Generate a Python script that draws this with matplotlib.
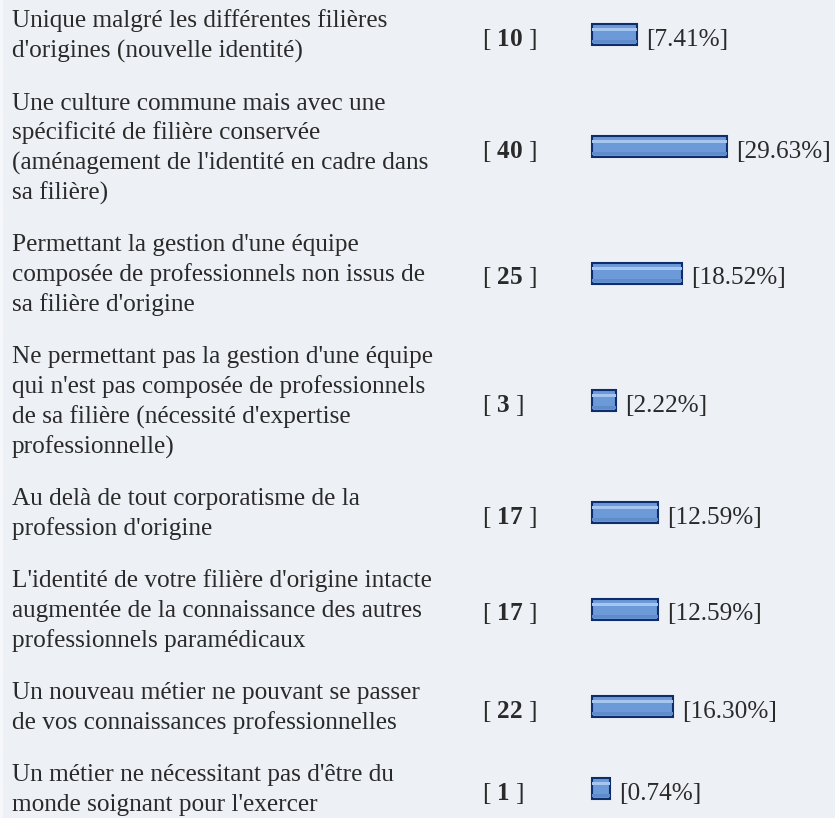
import matplotlib
matplotlib.use("Agg")
import matplotlib.pyplot as plt

# ---- data ----
labels = [
    ["Unique malgré les différentes filières", "d'origines (nouvelle identité)"],
    ["Une culture commune mais avec une", "spécificité de filière conservée",
     "(aménagement de l'identité en cadre dans", "sa filière)"],
    ["Permettant la gestion d'une équipe", "composée de professionnels non issus de",
     "sa filière d'origine"],
    ["Ne permettant pas la gestion d'une équipe", "qui n'est pas composée de professionnels",
     "de sa filière (nécessité d'expertise", "professionnelle)"],
    ["Au delà de tout corporatisme de la", "profession d'origine"],
    ["L'identité de votre filière d'origine intacte", "augmentée de la connaissance des autres",
     "professionnels paramédicaux"],
    ["Un nouveau métier ne pouvant se passer", "de vos connaissances professionnelles"],
    ["Un métier ne nécessitant pas d'être du", "monde soignant pour l'exercer"],
]
counts = [10, 40, 25, 3, 17, 17, 22, 1]
percents = [7.41, 29.63, 18.52, 2.22, 12.59, 12.59, 16.30, 0.74]

# ---- style / layout ----
W, H = 835, 818
BG = "#edf0f5"
TXT = "#2a2a2a"
FS = 18.2
LINE = 30.0      # px between lines
GAP = 22.0       # px between blocks
FIRST_C = 34.5   # centre of first block
PX_PER_PCT = 4.05
ZERO_PX = 607.0
BAR_MIN = 3.6    # bar minimum stub (in pct units)

plt.rcParams["font.family"] = ["Liberation Serif", "DejaVu Serif"]
plt.rcParams["mathtext.fontset"] = "custom"
plt.rcParams["mathtext.rm"] = "Liberation Serif"
plt.rcParams["mathtext.bf"] = "Liberation Serif:bold"

fig = plt.figure(figsize=(W / 100, H / 100), dpi=100, facecolor=BG)

# text layer in pixel layout units
ax = fig.add_axes([0, 0, 1, 1])
ax.set_xlim(0, W)
ax.set_ylim(H, 0)
ax.axis("off")

# bar layer with a percent scale
axb = fig.add_axes([0, 0, 1, 1])
axb.set_xlim(-ZERO_PX / PX_PER_PCT, (W - ZERO_PX) / PX_PER_PCT)
axb.set_ylim(H, 0)
axb.axis("off")

# subtle left border
ax.axvline(1, color="#f6f8fb", lw=2)

# block centres from line counts
centers = []
c = FIRST_C
for i, lab in enumerate(labels):
    if i > 0:
        c += (len(labels[i - 1]) + len(lab)) / 2 * LINE + GAP
    centers.append(c)

for lab, cen in zip(labels, centers):
    n = len(lab)
    for k, line in enumerate(lab):
        yb = cen + 8 + (k - (n - 1) / 2) * LINE
        ax.text(12, yb, line, fontsize=FS, color=TXT, va="baseline", ha="left")

for cnt, cen in zip(counts, centers):
    ax.text(482, cen + 11, r"[ $\mathbf{%d}$ ]" % cnt, fontsize=FS, color=TXT,
            va="baseline", ha="left")

widths = [p + BAR_MIN for p in percents]
lefts = [-BAR_MIN] * len(percents)
axb.barh(centers, widths, left=lefts, height=21, color="#6c99d8",
         edgecolor="#0e2d6c", linewidth=1.5, zorder=2)
axb.barh([c - 5 for c in centers], widths, left=lefts, height=2.5,
         color="#a6c6ef", linewidth=0, zorder=3)
axb.barh([c + 7 for c in centers], widths, left=lefts, height=3,
         color="#5f8bcb", linewidth=0, zorder=3)

for p, cen in zip(percents, centers):
    axb.annotate("[%.2f%%]" % p, xy=(p, cen + 11), xytext=(6.5, 0),
                 textcoords="offset points", fontsize=FS, color=TXT,
                 va="baseline", ha="left")

fig.savefig("out.png", dpi=100, facecolor=BG)
